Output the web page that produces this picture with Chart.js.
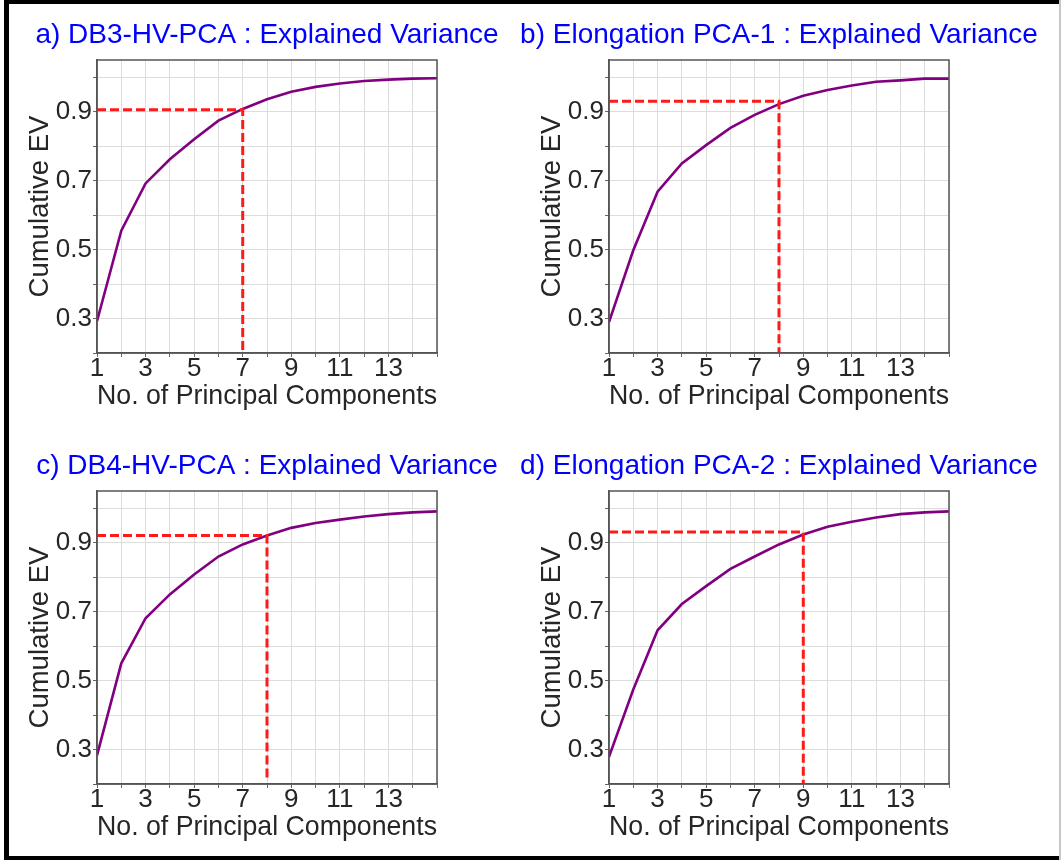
<!DOCTYPE html>
<html>
<head>
<meta charset="utf-8">
<script src="https://cdn.jsdelivr.net/npm/chart.js@4.4.1/dist/chart.umd.min.js"></script>
<style>
  html, body { margin: 0; padding: 0; background: #ffffff; }
  body { width: 1061px; height: 860px; position: relative; overflow: hidden; }
  canvas { position: absolute; }
  .bar { position: absolute; background: #000; }
</style>
</head>
<body>
<div class="bar" style="left:4px;top:0;width:1057px;height:4px;"></div>
<div class="bar" style="left:4px;top:0;width:5px;height:860px;"></div>
<div class="bar" style="left:4px;top:856px;width:1057px;height:4px;"></div>
<div class="bar" style="left:1059px;top:0;width:2px;height:860px;background:#c8c8c8;"></div>

<canvas id="cA" width="534" height="430" style="left:0px;top:0px;"></canvas>
<canvas id="cB" width="534" height="430" style="left:512px;top:0px;"></canvas>
<canvas id="cC" width="534" height="430" style="left:0px;top:431px;"></canvas>
<canvas id="cD" width="534" height="430" style="left:512px;top:431px;"></canvas>

<script>
// ---------- data ----------
const components = [1, 2, 3, 4, 5, 6, 7, 8, 9, 10, 11, 12, 13, 14, 15];
const xTickLabels = [1, 3, 5, 7, 9, 11, 13];
const yGridValues = [0.2, 0.3, 0.4, 0.5, 0.6, 0.7, 0.8, 0.9, 1.0];
const yTickLabels = ['0.3', '0.5', '0.7', '0.9'];

const titles = [
  'a) DB3-HV-PCA : Explained Variance',
  'b) Elongation PCA-1 : Explained Variance',
  'c) DB4-HV-PCA : Explained Variance',
  'd) Elongation PCA-2 : Explained Variance'
];

const evDB3 = [0.292, 0.555, 0.692, 0.762, 0.820, 0.874, 0.908, 0.936, 0.958, 0.972, 0.982, 0.989, 0.993, 0.996, 0.997];
const evElong1 = [0.290, 0.498, 0.668, 0.750, 0.803, 0.853, 0.891, 0.922, 0.946, 0.963, 0.976, 0.987, 0.991, 0.996, 0.996];
const evDB4 = [0.283, 0.550, 0.681, 0.750, 0.808, 0.860, 0.895, 0.921, 0.943, 0.957, 0.967, 0.976, 0.983, 0.988, 0.991];
const evElong2 = [0.279, 0.474, 0.646, 0.722, 0.774, 0.824, 0.860, 0.895, 0.924, 0.946, 0.961, 0.973, 0.983, 0.988, 0.991];

// cutoff markers: [component, cumulative EV, bottom of vertical guide]
const cutoffDB3 = [7, 0.906, 0.2];
const cutoffElong1 = [8, 0.930, 0.2];
const cutoffDB4 = [8, 0.921, 0.21];
const cutoffElong2 = [9, 0.931, 0.2];

// ---------- drawing ----------
Chart.defaults.font.family = "'Liberation Sans', Arial, sans-serif";

const frameBox = {
  id: 'frameBox',
  afterDraw(chart) {
    const a = chart.chartArea, ctx = chart.ctx;
    ctx.save();
    ctx.strokeStyle = '#555555';
    ctx.lineWidth = 1.5;
    ctx.strokeRect(a.left, a.top, a.right - a.left, a.bottom - a.top);
    ctx.restore();
  }
};

function makePanel(id, title, values, cutoff) {
  const curve = components.map((c, i) => ({ x: c, y: values[i] }));
  const guide = [
    { x: components[0], y: cutoff[1] },
    { x: cutoff[0], y: cutoff[1] },
    { x: cutoff[0], y: cutoff[2] }
  ];
  new Chart(document.getElementById(id), {
    type: 'line',
    data: {
      datasets: [
        {
          data: guide,
          borderColor: '#ff1a1a',
          borderWidth: 3,
          borderDash: [9, 4],
          pointRadius: 0,
          tension: 0,
          fill: false,
          order: 1
        },
        {
          data: curve,
          borderColor: '#800080',
          borderWidth: 2.6,
          pointRadius: 0,
          tension: 0,
          fill: false,
          order: 2
        }
      ]
    },
    options: {
      responsive: false,
      animation: false,
      devicePixelRatio: 1,
      layout: { padding: 0 },
      plugins: {
        legend: { display: false },
        tooltip: { enabled: false },
        title: {
          display: true,
          text: title,
          color: '#0000ff',
          font: { size: 28, weight: 'normal' },
          padding: { top: 18.2, bottom: 8.2 }
        }
      },
      scales: {
        x: {
          type: 'linear',
          min: 1,
          max: 15,
          afterFit: s => { s.height = 77; },
          ticks: {
            stepSize: 1,
            autoSkip: false,
            maxRotation: 0,
            padding: -1,
            color: '#262626',
            font: { size: 26, lineHeight: 1 },
            callback: v => (xTickLabels.includes(v) ? String(v) : '')
          },
          grid: { color: '#dddddd', lineWidth: 1, tickLength: 4, tickColor: '#666666' },
          border: { color: '#555555', width: 1.5 },
          title: {
            display: true,
            text: 'No. of Principal Components',
            color: '#262626',
            font: { size: 27.5 },
            padding: { top: 0, bottom: 16.6 }
          }
        },
        y: {
          type: 'linear',
          min: 0.2,
          max: 1.05,
          afterFit: s => { s.width = 97; },
          afterBuildTicks: s => { s.ticks = yGridValues.map(v => ({ value: v })); },
          ticks: {
            autoSkip: false,
            padding: 1,
            color: '#262626',
            font: { size: 26 },
            callback: v => {
              const t = v.toFixed(1);
              return yTickLabels.includes(t) ? t : '';
            }
          },
          grid: { color: '#dddddd', lineWidth: 1, tickLength: 4, tickColor: '#666666' },
          border: { color: '#555555', width: 1.5 },
          title: {
            display: true,
            text: 'Cumulative EV',
            color: '#262626',
            font: { size: 27.5 },
            padding: { top: 23.5, bottom: 0 }
          }
        },
        // empty right-hand spacer so the title centres over the plot
        spacer: {
          type: 'linear',
          axis: 'y',
          position: 'right',
          afterFit: s => { s.width = 97; },
          ticks: { display: false },
          grid: { display: false, drawTicks: false },
          border: { display: false },
          title: { display: false }
        }
      }
    },
    plugins: [frameBox]
  });
}

makePanel('cA', titles[0], evDB3, cutoffDB3);
makePanel('cB', titles[1], evElong1, cutoffElong1);
makePanel('cC', titles[2], evDB4, cutoffDB4);
makePanel('cD', titles[3], evElong2, cutoffElong2);
</script>
</body>
</html>
